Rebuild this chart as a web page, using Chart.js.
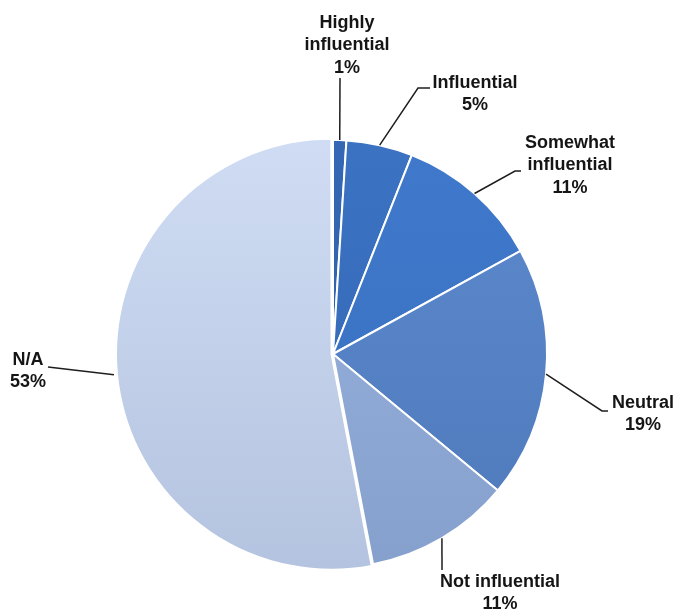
<!DOCTYPE html>
<html>
<head>
<meta charset="utf-8">
<script src="https://cdn.jsdelivr.net/npm/chart.js@4.4.1/dist/chart.umd.min.js"></script>
<style>
    html, body { margin: 0; padding: 0; background: #fff; }
    #wrap { width: 677px; height: 610px; }
</style>
</head>
<body>
<div id="wrap"><canvas id="pieChart" width="677" height="610"></canvas></div>
<script>
// Data
const categories = ['Highly influential', 'Influential', 'Somewhat influential', 'Neutral', 'Not influential', 'N/A'];
const shares = [1, 5, 11, 19, 11, 53];

// slice colours (top / bottom of gradient)
const topColors = ['#3468b4', '#3b72c2', '#4079cc', '#5d8ace', '#9ab3df', '#cfdcf3'];
const bottomColors = ['#2b5ba2', '#3267b3', '#386fbe', '#4e7abb', '#86a0cd', '#b4c3df'];
const sliceOffsets = [0, 0, 0, 0, 0, 6];

// label layout: text lines, text centre x, first line y, leader line points after the arc anchor
const labelLayout = [
    { lines: ['Highly', 'influential'], x: 347, y: 23, path: [[340, 78]] },
    { lines: ['Influential'], x: 475, y: 83, path: [[418, 88], [430, 88]] },
    { lines: ['Somewhat', 'influential'], x: 570, y: 143, path: [[515, 171], [521, 171]] },
    { lines: ['Neutral'], x: 643, y: 403, path: [[602, 411], [608, 411]] },
    { lines: ['Not influential'], x: 500, y: 582, path: [[442, 570]] },
    { lines: ['N/A'], x: 28, y: 360, path: [[48, 367]] }
];

function sliceGradient(context) {
    const chart = context.chart;
    const area = chart.chartArea;
    const i = context.dataIndex;
    if (!area) return topColors[i];
    const cy = (area.top + area.bottom) / 2;
    const g = chart.ctx.createLinearGradient(0, cy - 214, 0, cy + 214);
    g.addColorStop(0, topColors[i]);
    g.addColorStop(1, bottomColors[i]);
    return g;
}

const leaderLabels = {
    id: 'leaderLabels',
    afterDatasetsDraw(chart) {
        const ctx = chart.ctx;
        const meta = chart.getDatasetMeta(0);
        ctx.save();
        meta.data.forEach((arc, i) => {
            const p = arc.getProps(['x', 'y', 'startAngle', 'endAngle', 'outerRadius']);
            const mid = (p.startAngle + p.endAngle) / 2;
            const off = sliceOffsets[i];
            const ax = p.x + Math.cos(mid) * (p.outerRadius + off);
            const ay = p.y + Math.sin(mid) * (p.outerRadius + off);
            const lay = labelLayout[i];

            ctx.strokeStyle = '#1e1e1e';
            ctx.lineWidth = 1.5;
            ctx.beginPath();
            ctx.moveTo(ax, ay);
            lay.path.forEach(pt => ctx.lineTo(pt[0], pt[1]));
            ctx.stroke();

            const lines = lay.lines.concat([shares[i] + '%']);
            ctx.fillStyle = '#151515';
            ctx.font = 'bold 18px "Liberation Sans", Arial, sans-serif';
            ctx.textAlign = 'center';
            ctx.textBaseline = 'middle';
            lines.forEach((t, k) => {
                ctx.fillText(t, lay.x, lay.y + k * 22.5);
            });
        });
        ctx.restore();
    }
};

new Chart(document.getElementById('pieChart').getContext('2d'), {
    type: 'pie',
    data: {
        labels: categories,
        datasets: [{
            data: shares,
            backgroundColor: sliceGradient,
            borderColor: '#ffffff',
            borderWidth: 2,
            offset: sliceOffsets,
            hoverOffset: 0
        }]
    },
    options: {
        responsive: false,
        animation: false,
        radius: 214,
        rotation: 0,
        layout: {
            padding: { left: 100, right: 111, top: 122, bottom: 24 }
        },
        plugins: {
            legend: { display: false },
            tooltip: { enabled: false }
        }
    },
    plugins: [leaderLabels]
});
</script>
</body>
</html>
